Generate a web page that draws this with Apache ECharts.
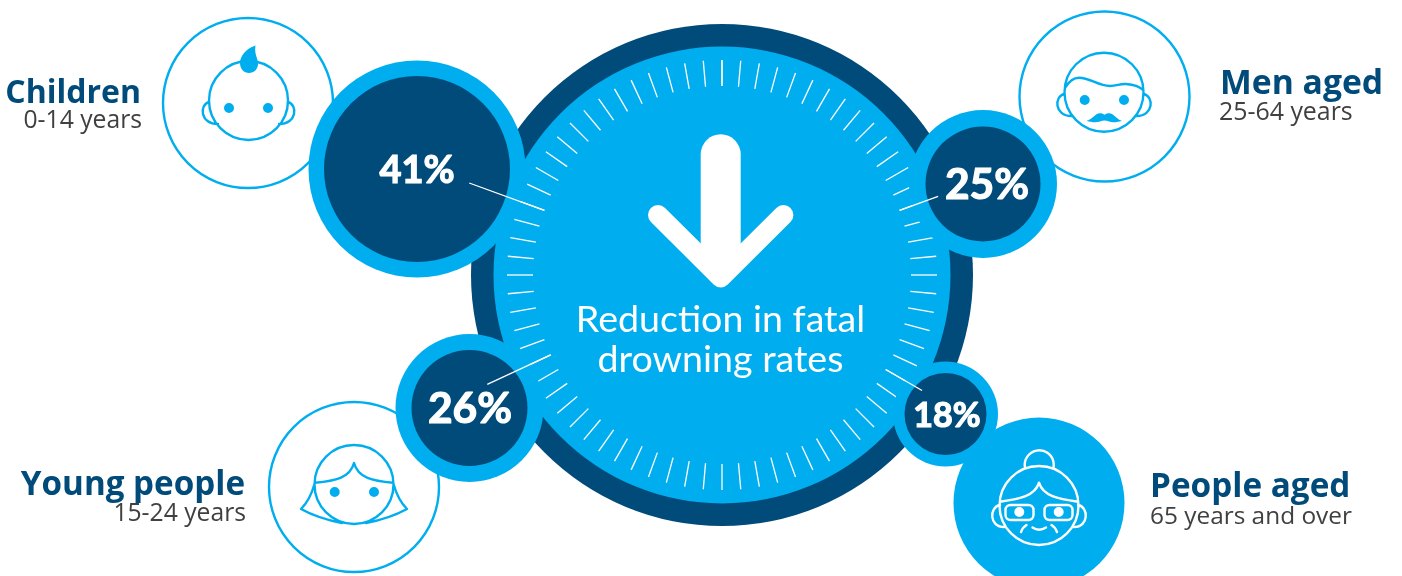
<!DOCTYPE html>
<html>
<head>
<meta charset="utf-8">
<style>html,body{margin:0;padding:0;background:#fff}#c{width:1402px;height:576px}</style>
<script src="https://cdn.jsdelivr.net/npm/echarts@6/dist/echarts.min.js"></script>
</head>
<body>
<div id="c"></div>
<script>
const groups = ['Children', 'Young people', 'Men aged', 'People aged'];
const ages = ['0-14 years', '15-24 years', '25-64 years', '65 years and over'];
const reductions = [41, 26, 25, 18];
const titleLines = ['Reduction in fatal', 'drowning rates'];

const LIGHT = '#00AEEF', DARK = '#004B7A', TEXT2 = '#404040';
const CX = 722, CY = 275;

// layout for each group, same order as the arrays above
const bubbleLayout = [
  {x: 417, y: 169, R: 108.5, r: 93, fs: 38, tx: 417, ty: 171, a: -70, lr: 269},
  {x: 469.5, y: 408, R: 74, r: 58, fs: 42.5, tx: 470, ty: 409, a: -115, lr: 259},
  {x: 983, y: 184, R: 74, r: 57.5, fs: 42.5, tx: 987, ty: 185, a: 70, lr: 230},
  {x: 945.5, y: 414, R: 52.5, r: 41, fs: 34, tx: 947, ty: 416, a: 120, lr: 231}
];
const personaLayout = [
  {x: 248, y: 103, filled: false, align: 'right', fs: 32, sfs: 24.7, lx: 141, ly: 94, sx: 142, sy: 121,
   stroke: 'M248.5 61a39.5 39.5 0 1 0 0.01 0ZM209 102C199 105 200 124 218 124M288 102C298 105 297 124 279 124',
   fill: 'M255.5 45.5C245 49 240 57 240 63C240 69 244 73 249 73C254 73 258 69 258 64C258 58 254 54 255.5 45.5ZM234 108a5 5 0 1 0-10 0a5 5 0 1 0 10 0ZM273 108a5 5 0 1 0-10 0a5 5 0 1 0 10 0Z'},
  {x: 354, y: 487, filled: false, align: 'right', fs: 33.2, sfs: 24.7, lx: 245, ly: 486, sx: 246, sy: 514,
   stroke: 'M354 445a39.5 39.5 0 1 0 0.01 0ZM315 482.7C335 481 350 478 354 463C358 478 373 481 393 482.7M314.5 484C312 493 308 502 301 509C312 515 326 520 342 523M393.5 484C396 493 400 502 407 509C396 515 382 520 366 523',
   fill: 'M339.7 492a5 5 0 1 0-10 0a5 5 0 1 0 10 0ZM379 492a5 5 0 1 0-10 0a5 5 0 1 0 10 0Z'},
  {x: 1104.5, y: 96.5, filled: false, align: 'left', fs: 33.7, sfs: 24.9, lx: 1220, ly: 84, sx: 1219, sy: 113,
   stroke: 'M1104 52.7a39.5 39.5 0 1 0 0.01 0ZM1065 88C1069 81 1073 77.7 1079 77.7C1090 77.7 1098 86 1110 86C1117 86 1120 83.5 1126 84C1133 84.5 1139 86 1143 90M1064.5 94C1054 96 1054 116 1071.5 116M1143.5 94C1154 96 1154 116 1136.5 116',
   fill: 'M1086.5 120.7C1092 120 1095 113.3 1100 113.3C1102 113.3 1103.5 114 1104.5 114.8C1105.5 114 1107 113.3 1109 113.3C1114 113.3 1117 120 1122 120.7C1117 122.5 1112 122.5 1109 121.5C1107.5 121 1106 120.5 1104.5 120.5C1103 120.5 1101.5 121 1100 121.5C1097 122.5 1091.5 122.5 1086.5 120.7ZM1089.7 100a5 5 0 1 0-10 0a5 5 0 1 0 10 0ZM1129 100a5 5 0 1 0-10 0a5 5 0 1 0 10 0Z'},
  {x: 1039, y: 503, filled: true, align: 'left', fs: 33.3, sfs: 24.4, lx: 1150, ly: 488, sx: 1150, sy: 517,
   stroke: 'M1039 466a39.5 39.5 0 1 0 0.01 0ZM1025 467.5A14.5 14.5 0 1 1 1053.5 467.5M1000 501.7C1020 499 1035 496 1039 482.7C1043 496 1058 499 1078 501.7M1010.5 505H1028.5A5 5 0 0 1 1033.5 510V515A5 5 0 0 1 1028.5 520H1010.5A5 5 0 0 1 1005.5 515V510A5 5 0 0 1 1010.5 505ZM1049.5 505H1067.5A5 5 0 0 1 1072.5 510V515A5 5 0 0 1 1067.5 520H1049.5A5 5 0 0 1 1044.5 515V510A5 5 0 0 1 1049.5 505ZM1000 505C989 507 989 527 1004 527M1078 505C1089 507 1089 527 1074 527M1026.5 525C1024 526.5 1022 529 1021 532M1051.5 525C1054 526.5 1056 529 1057 532M1032.5 527.5Q1039 532 1046 527.5',
   fill: 'M1024.3 512a5 5 0 1 0-10 0a5 5 0 1 0 10 0ZM1063.7 512a5 5 0 1 0-10 0a5 5 0 1 0 10 0Z'}
];

const LABEL_FONT = '"Open Sans", "Noto Sans", sans-serif';

function renderPersona(params, api) {
  const i = params.dataIndex, p = personaLayout[i];
  const ink = p.filled ? '#fff' : LIGHT;
  return {
    type: 'group',
    children: [
      {type: 'circle', shape: {cx: p.x, cy: p.y, r: p.filled ? 85.5 : 85},
       style: {fill: p.filled ? LIGHT : '#fff', stroke: LIGHT, lineWidth: p.filled ? 0 : 2.4}},
      {type: 'path', shape: {pathData: p.stroke}, style: {fill: 'none', stroke: ink, lineWidth: 2.4, lineCap: 'round', lineJoin: 'round'}},
      {type: 'path', shape: {pathData: p.fill}, style: {fill: ink, stroke: 'none'}},
      {type: 'text', x: p.lx, y: p.ly, style: {text: groups[i], fill: DARK, font: '700 ' + p.fs + 'px ' + LABEL_FONT, textAlign: p.align, textVerticalAlign: 'middle'}},
      {type: 'text', x: p.sx, y: p.sy, style: {text: ages[i], fill: TEXT2, font: '400 ' + p.sfs + 'px ' + LABEL_FONT, textAlign: p.align, textVerticalAlign: 'middle'}}
    ]
  };
}

function renderDisc() {
  const titleFont = '400 37.6px Lato, sans-serif';
  return {
    type: 'group',
    children: [
      {type: 'circle', shape: {cx: CX, cy: CY, r: 251}, style: {fill: DARK}},
      {type: 'circle', shape: {cx: CX, cy: CY, r: 228.5}, style: {fill: LIGHT}},
      {type: 'rect', shape: {x: 700.7, y: 134.3, width: 40, height: 134, r: [20, 20, 0, 0]}, style: {fill: '#fff'}},
      {type: 'polyline', shape: {points: [[658, 215], [720.7, 277.4], [783.4, 215]]},
       style: {fill: 'none', stroke: '#fff', lineWidth: 20, lineCap: 'round', lineJoin: 'round'}},
      {type: 'text', x: 720.5, y: 320, style: {text: titleLines[0], fill: '#fff', font: titleFont, textAlign: 'center', textVerticalAlign: 'middle'}},
      {type: 'text', x: 720.5, y: 360, style: {text: titleLines[1], fill: '#fff', font: titleFont, textAlign: 'center', textVerticalAlign: 'middle'}}
    ]
  };
}

function renderBubble(params, api) {
  const i = params.dataIndex, b = bubbleLayout[i], rad = b.a * Math.PI / 180;
  const s = Math.sin(rad), c = Math.cos(rad);
  return {
    type: 'group',
    children: [
      {type: 'circle', shape: {cx: b.x, cy: b.y, r: b.R}, style: {fill: LIGHT}},
      {type: 'circle', shape: {cx: b.x, cy: b.y, r: b.r}, style: {fill: DARK}},
      {type: 'line', shape: {x1: CX + 189 * s, y1: CY - 189 * c, x2: CX + b.lr * s, y2: CY - b.lr * c},
       style: {stroke: '#fff', lineWidth: 1.3}},
      {type: 'text', x: b.tx, y: b.ty, style: {text: api.value(0) + '%', fill: '#fff', stroke: '#fff', lineWidth: 1.2,
        font: '700 ' + b.fs + 'px Lato, sans-serif', textAlign: 'center', textVerticalAlign: 'middle'}}
    ]
  };
}

const chart = echarts.init(document.getElementById('c'), null, {width: 1402, height: 576});
chart.setOption({
  backgroundColor: '#fff',
  animation: false,
  series: [
    {type: 'custom', coordinateSystem: 'none', z: 1, silent: true, renderItem: renderPersona, data: groups.map((g, i) => [i])},
    {type: 'custom', coordinateSystem: 'none', z: 2, silent: true, renderItem: renderDisc, data: [[0]]},
    {type: 'gauge', z: 3, silent: true, center: [CX, CY], radius: 215, startAngle: 90, endAngle: -270,
     min: 0, max: 360, splitNumber: 72,
     axisLine: {show: false, lineStyle: {width: 0}},
     axisTick: {show: false}, axisLabel: {show: false}, pointer: {show: false},
     splitLine: {show: true, distance: 0, length: 26, lineStyle: {color: '#fff', width: 1.3}},
     title: {show: false}, detail: {show: false}, data: []},
    {type: 'custom', coordinateSystem: 'none', z: 4, silent: true, renderItem: renderBubble, data: reductions.map(v => [v])}
  ]
});
</script>
</body>
</html>
